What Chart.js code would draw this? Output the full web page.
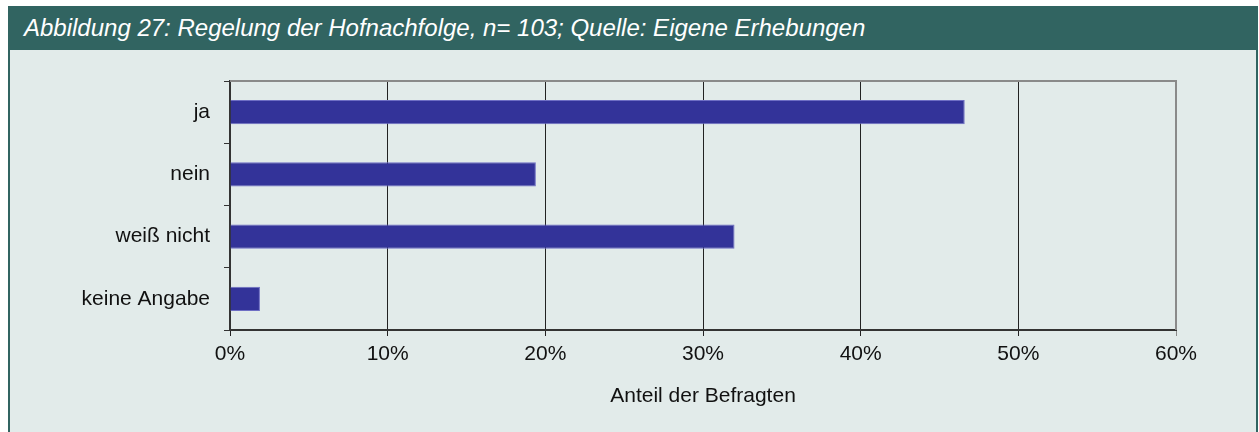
<!DOCTYPE html>
<html lang="de">
<head>
<meta charset="utf-8">
<title>Abbildung 27</title>
<script src="https://cdn.jsdelivr.net/npm/chart.js@4/dist/chart.umd.min.js"></script>
<style>
  html, body {
    margin: 0;
    padding: 0;
    background: #ffffff;
    font-family: "Liberation Sans", Arial, sans-serif;
  }
  .figure {
    position: absolute;
    left: 8px;
    top: 6px;
    width: 1246px;
    height: 440px;
    border: 2px solid #316461;
    border-top: none;
    background: #e2ebea;
  }
  .figure-head {
    height: 44px;
    background: #316461;
    color: #ffffff;
    font-style: italic;
    font-size: 24px;
    line-height: 44px;
    padding-left: 14px;
    white-space: nowrap;
  }
  .chart-box {
    position: absolute;
    left: 0;
    top: 44px;
    width: 1246px;
    height: 382px;
  }
</style>
</head>
<body>
<div class="figure">
  <div class="figure-head">Abbildung 27: Regelung der Hofnachfolge, n= 103; Quelle: Eigene Erhebungen</div>
  <div class="chart-box"><canvas id="hofChart"></canvas></div>
</div>

<script>
// Daten (Anteil der Befragten in %)
const categories = ["ja", "nein", "weiß nicht", "keine Angabe"]
const shares = [46.6, 19.4, 32.0, 1.9]
const xTicks = [0, 10, 20, 30, 40, 50, 60]

document.addEventListener("DOMContentLoaded", () => {
  const canvas = document.getElementById("hofChart")
  const font = { family: "'Liberation Sans', Arial, sans-serif", size: 21 }

  // grauer Rahmen oben und rechts um die Zeichenfläche
  const plotFrame = {
    id: "plotFrame",
    afterDraw: (chart) => {
      const { ctx, chartArea } = chart
      ctx.save()
      ctx.strokeStyle = "#8a8a8a"
      ctx.lineWidth = 2
      ctx.beginPath()
      ctx.moveTo(chartArea.left, chartArea.top)
      ctx.lineTo(chartArea.right, chartArea.top)
      ctx.lineTo(chartArea.right, chartArea.bottom)
      ctx.stroke()
      ctx.restore()
    },
  }

  new Chart(canvas, {
    type: "bar",
    data: {
      labels: categories,
      datasets: [
        {
          data: shares,
          backgroundColor: "#333399",
          borderColor: "#6e6ec4",
          borderWidth: 1,
          borderSkipped: "left",
          categoryPercentage: 1,
          barPercentage: 0.39,
        },
      ],
    },
    options: {
      indexAxis: "y",
      responsive: true,
      maintainAspectRatio: false,
      animation: false,
      layout: {
        padding: { top: 31, right: 80, left: 0, bottom: 0 },
      },
      plugins: {
        legend: { display: false },
        tooltip: { enabled: false },
      },
      scales: {
        x: {
          min: xTicks[0],
          max: xTicks[xTicks.length - 1],
          afterBuildTicks: (scale) => {
            scale.ticks = xTicks.map((v) => ({ value: v }))
          },
          afterFit: (scale) => {
            scale.height = 102
          },
          ticks: {
            color: "#111111",
            font: font,
            padding: 6,
            callback: (value) => value + "%",
          },
          grid: {
            color: (ctx) => (ctx.index === xTicks.length - 1 ? "#8a8a8a" : "#222222"),
            lineWidth: 1,
            tickLength: 6,
          },
          border: { color: "#333333", width: 2 },
          title: {
            display: true,
            text: "Anteil der Befragten",
            color: "#111111",
            font: font,
            padding: { top: 0, bottom: 23 },
          },
        },
        y: {
          afterFit: (scale) => {
            scale.width = 220
          },
          ticks: {
            color: "#111111",
            font: font,
            padding: 14,
          },
          grid: {
            drawOnChartArea: false,
            drawTicks: true,
            tickLength: 6,
            color: "#333333",
          },
          border: { color: "#333333", width: 2 },
        },
      },
    },
    plugins: [plotFrame],
  })
})
</script>
</body>
</html>
